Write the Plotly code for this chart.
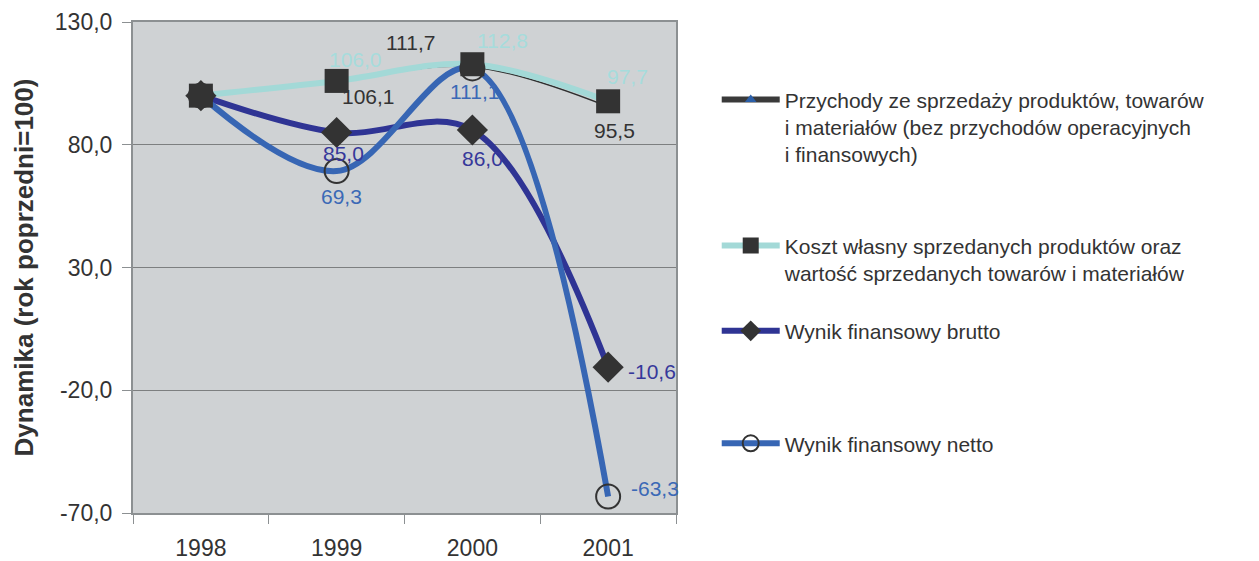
import plotly.graph_objects as go

# --- data -------------------------------------------------------------
years = ["1998", "1999", "2000", "2001"]

przychody = [100.0, 106.1, 111.7, 95.5]
koszt = [100.0, 106.0, 112.8, 97.7]
brutto = [100.0, 85.0, 86.0, -10.6]
netto = [100.0, 69.3, 111.1, -63.3]

names = [
    "Przychody ze sprzedaży produktów, towarów<br>i materiałów (bez przychodów operacyjnych<br>i finansowych)",
    "Koszt własny sprzedanych produktów oraz<br>wartość sprzedanych towarów i materiałów",
    "Wynik finansowy brutto",
    "Wynik finansowy netto",
]

y_tick_vals = [-70, -20, 30, 80, 130]
y_tick_text = ["-70,0", "-20,0", "30,0", "80,0", "130,0"]

# --- styling ----------------------------------------------------------
FONT = "Liberation Sans, Arial, sans-serif"
TXT = "#333333"
line_colors = ["#2f2f2f", "#a3d9d7", "#2f3494", "#3766b4"]
legend_line_colors = ["#3a3a3a", "#a3d9d7", "#2f3494", "#3766b4"]
label_colors = ["#333333", "#a6dcdc", "#36389a", "#3b69b6"]
line_widths = [1.6, 6, 6, 6]
legend_line_widths = [6, 6, 6, 6]

series = [przychody, koszt, brutto, netto]

markers = [
    dict(symbol="triangle-up", size=10, color="#2b5fa8", line=dict(width=0)),
    dict(symbol="square", size=24, color="#333333", line=dict(width=0)),
    dict(symbol="diamond", size=24, color="#333333", line=dict(width=0)),
    dict(symbol="circle-open", size=24, color="#333333", line=dict(width=2)),
]

# label offsets (pixels) for each point; None = no label
label_offsets = [
    [None, (32, -16), (-62, 24), (6, -24)],
    [None, (19, 21), (30, 24), (19, 25)],
    [None, (7, -21), (10, -28), (44, -4)],
    [None, (5, -25), (2, -23), (47, 8)],
]

# legend positions (paper coords, top of each entry)
legend_tops = [0.883, 0.586, 0.412, 0.183]
legend_keys = ["legend", "legend2", "legend3", "legend4"]

fig = go.Figure()

# lines, later series drawn on top
for i in range(4):
    fig.add_trace(go.Scatter(
        x=years, y=series[i], mode="lines",
        line=dict(color=line_colors[i], width=line_widths[i], shape="spline", smoothing=1.0),
        showlegend=False, hoverinfo="skip",
    ))

# markers on top of all lines
for i in [0, 3, 2, 1]:
    fig.add_trace(go.Scatter(
        x=years, y=series[i], mode="markers", marker=markers[i],
        showlegend=False, hoverinfo="skip",
    ))

# legend entries (line + marker swatches only)
for i in range(4):
    fig.add_trace(go.Scatter(
        x=[years[0]], y=[None], name=names[i], mode="lines+markers",
        line=dict(color=legend_line_colors[i], width=legend_line_widths[i]),
        marker=markers[i], legend=legend_keys[i],
    ))

# value labels (x given as category index)
annotations = []
for i, vals in enumerate(series):
    for j, v in enumerate(vals):
        off = label_offsets[i][j]
        if off is None:
            continue
        annotations.append(dict(
            x=j, y=v, xref="x", yref="y",
            text=f"{v:.1f}".replace(".", ","),
            showarrow=False, xshift=off[0], yshift=off[1],
            font=dict(family=FONT, size=21, color=label_colors[i]),
        ))

layout_legends = {}
for i, key in enumerate(legend_keys):
    layout_legends[key] = dict(
        x=1.075, y=legend_tops[i], xanchor="left", yanchor="top",
        bgcolor="rgba(0,0,0,0)", borderwidth=0,
        font=dict(family=FONT, size=21, color=TXT),
        itemwidth=58, valign="top",
    )

fig.update_layout(
    width=1259, height=561,
    margin=dict(l=133, r=583, t=22, b=48),
    paper_bgcolor="white",
    plot_bgcolor="#cfd2d4",
    font=dict(family=FONT, color=TXT),
    annotations=annotations,
    **layout_legends,
)

fig.update_xaxes(
    type="category", categoryorder="array", categoryarray=years,
    range=[-0.5, 3.5], automargin=False,
    showline=True, linecolor="#8c9092", linewidth=2, mirror=True,
    ticks="outside", tickson="boundaries", ticklen=9, tickcolor="#8c9092", tickwidth=1,
    showgrid=False, ticklabelstandoff=13,
    tickfont=dict(family=FONT, size=23, color=TXT),
)
fig.update_yaxes(
    range=[-70, 130], tickvals=y_tick_vals, ticktext=y_tick_text, automargin=False,
    showline=True, linecolor="#8c9092", linewidth=2, mirror=True,
    ticks="outside", ticklen=9, tickcolor="#8c9092", tickwidth=1,
    showgrid=True, gridcolor="#7d7f80", gridwidth=1, zeroline=False,
    ticklabelstandoff=5,
    tickfont=dict(family=FONT, size=23, color=TXT),
    title=dict(text="<b>Dynamika (rok poprzedni=100)</b>",
               font=dict(family=FONT, size=26, color=TXT), standoff=14),
)

fig.write_html("out.html")
